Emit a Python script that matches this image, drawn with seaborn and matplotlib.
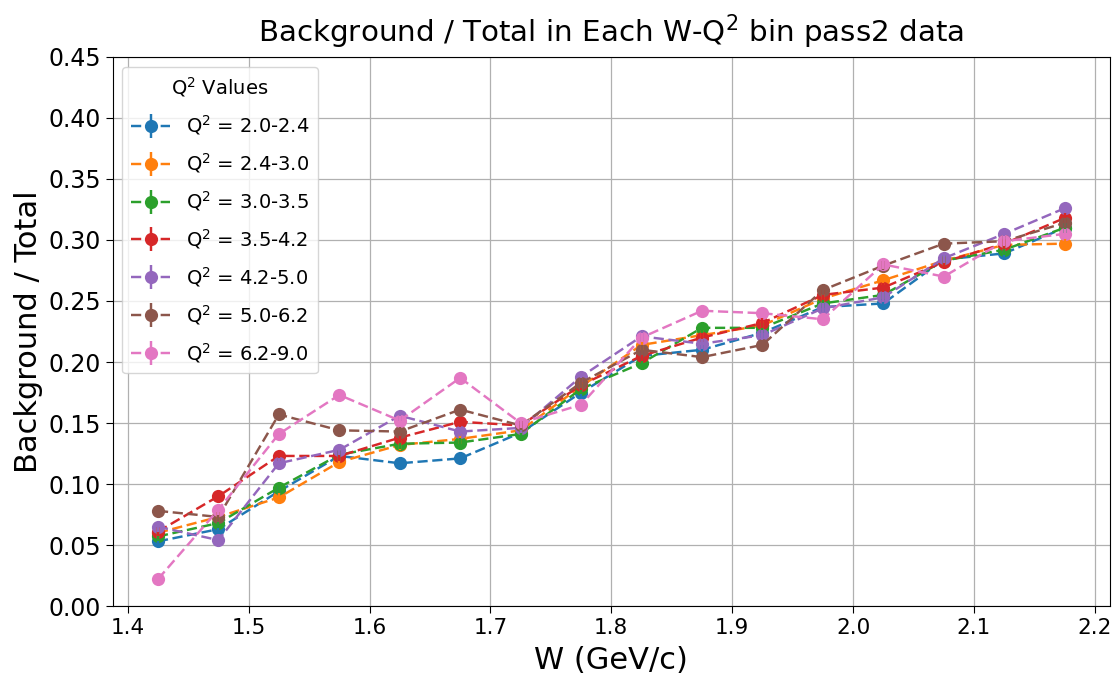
import numpy as np
import pandas as pd
import matplotlib
matplotlib.use("Agg")
import matplotlib.pyplot as plt
from matplotlib.lines import Line2D
from matplotlib.legend_handler import HandlerTuple
import seaborn as sns

# W bin centres (GeV/c)
w_centers = [1.425, 1.475, 1.525, 1.575, 1.625, 1.675, 1.725, 1.775,
             1.825, 1.875, 1.925, 1.975, 2.025, 2.075, 2.125, 2.175]

q2_bins = ["2.0-2.4", "2.4-3.0", "3.0-3.5", "3.5-4.2", "4.2-5.0", "5.0-6.2", "6.2-9.0"]

# Background / Total ratio per Q^2 bin
ratio_q2_20_24 = [0.053, 0.063, 0.094, 0.123, 0.117, 0.121, 0.142, 0.175,
                  0.205, 0.210, 0.224, 0.245, 0.248, 0.284, 0.289, 0.310]
ratio_q2_24_30 = [0.060, 0.073, 0.089, 0.118, 0.132, 0.137, 0.144, 0.180,
                  0.214, 0.222, 0.230, 0.252, 0.267, 0.283, 0.296, 0.297]
ratio_q2_30_35 = [0.057, 0.068, 0.097, 0.124, 0.133, 0.134, 0.141, 0.178,
                  0.199, 0.228, 0.228, 0.248, 0.255, 0.283, 0.292, 0.310]
ratio_q2_35_42 = [0.061, 0.090, 0.123, 0.123, 0.138, 0.151, 0.148, 0.181,
                  0.205, 0.220, 0.232, 0.255, 0.261, 0.282, 0.297, 0.318]
ratio_q2_42_50 = [0.065, 0.054, 0.117, 0.128, 0.156, 0.143, 0.146, 0.188,
                  0.221, 0.215, 0.222, 0.244, 0.253, 0.285, 0.305, 0.326]
ratio_q2_50_62 = [0.078, 0.073, 0.157, 0.144, 0.143, 0.161, 0.148, 0.183,
                  0.210, 0.204, 0.214, 0.259, 0.279, 0.297, 0.299, 0.314]
ratio_q2_62_90 = [0.022, 0.079, 0.141, 0.173, 0.152, 0.187, 0.150, 0.165,
                  0.220, 0.242, 0.240, 0.235, 0.280, 0.270, 0.299, 0.305]

# statistical uncertainty on the ratio
ratio_err = [0.004, 0.004, 0.004, 0.004, 0.004, 0.004, 0.004, 0.004,
             0.004, 0.004, 0.004, 0.004, 0.004, 0.004, 0.004, 0.004]

series = [ratio_q2_20_24, ratio_q2_24_30, ratio_q2_30_35, ratio_q2_35_42,
          ratio_q2_42_50, ratio_q2_50_62, ratio_q2_62_90]

rows = []
for q2, vals in zip(q2_bins, series):
    for w, v, e in zip(w_centers, vals, ratio_err):
        rows.append({"W": w, "ratio": v, "err": e, "Q2": q2})
df = pd.DataFrame(rows)

sns.set_style("ticks")
plt.rcParams["font.family"] = ["DejaVu Sans"]
for key in ["axes.edgecolor", "xtick.color", "ytick.color", "text.color",
            "axes.labelcolor"]:
    plt.rcParams[key] = "black"

palette = sns.color_palette("tab10", len(q2_bins))
DASH = (0, (4.2, 1.9))
LW = 1.75
MS = 9.5

fig = plt.figure(figsize=(11.15, 6.84), dpi=100)
ax = fig.add_axes([0.101, 0.114, 0.8945, 0.8027])

sns.lineplot(data=df, x="W", y="ratio", hue="Q2", hue_order=q2_bins,
             palette=palette, marker="o", markersize=MS, markeredgewidth=0,
             linestyle=DASH, linewidth=LW, legend=False, ax=ax,
             errorbar=None, sort=False)
for q2, col in zip(q2_bins, palette):
    sub = df[df["Q2"] == q2]
    ax.errorbar(sub["W"], sub["ratio"], yerr=sub["err"], fmt="none",
                ecolor=col, elinewidth=LW)

ax.set_ylim(0, 0.45)
ax.set_yticks(np.arange(0, 0.451, 0.05))
ax.set_xticks(np.arange(1.4, 2.201, 0.1))
ax.grid(True, color="#b0b0b0", linewidth=0.9)
ax.tick_params(axis="y", labelsize=17, length=5)
ax.tick_params(axis="x", labelsize=15.5, length=5)
ax.set_xlabel("W (GeV/c)", fontsize=22, labelpad=6)
ax.set_ylabel("Background / Total", fontsize=22)
ax.set_title("Background / Total in Each W-Q$^2$ bin pass2 data",
             fontsize=21.2, pad=11)

handles = []
for col in palette:
    line = Line2D([], [], color=col, linestyle=DASH, linewidth=LW,
                  marker="o", markersize=MS, markeredgewidth=0)
    bar = Line2D([], [], color=col, linestyle="none", marker="|",
                 markersize=17, markeredgewidth=LW)
    handles.append((line, bar))
labels = [f"Q$^2$ = {q}" for q in q2_bins]
ax.legend(handles, labels, handler_map={tuple: HandlerTuple(ndivide=1, pad=0)},
          title="Q$^2$ Values", loc="upper left", fontsize=14,
          title_fontsize=14, frameon=True, borderpad=0.45, labelspacing=0.72,
          handlelength=2.0, handletextpad=0.8, borderaxespad=0.5)

fig.savefig("out.png", dpi=100)
